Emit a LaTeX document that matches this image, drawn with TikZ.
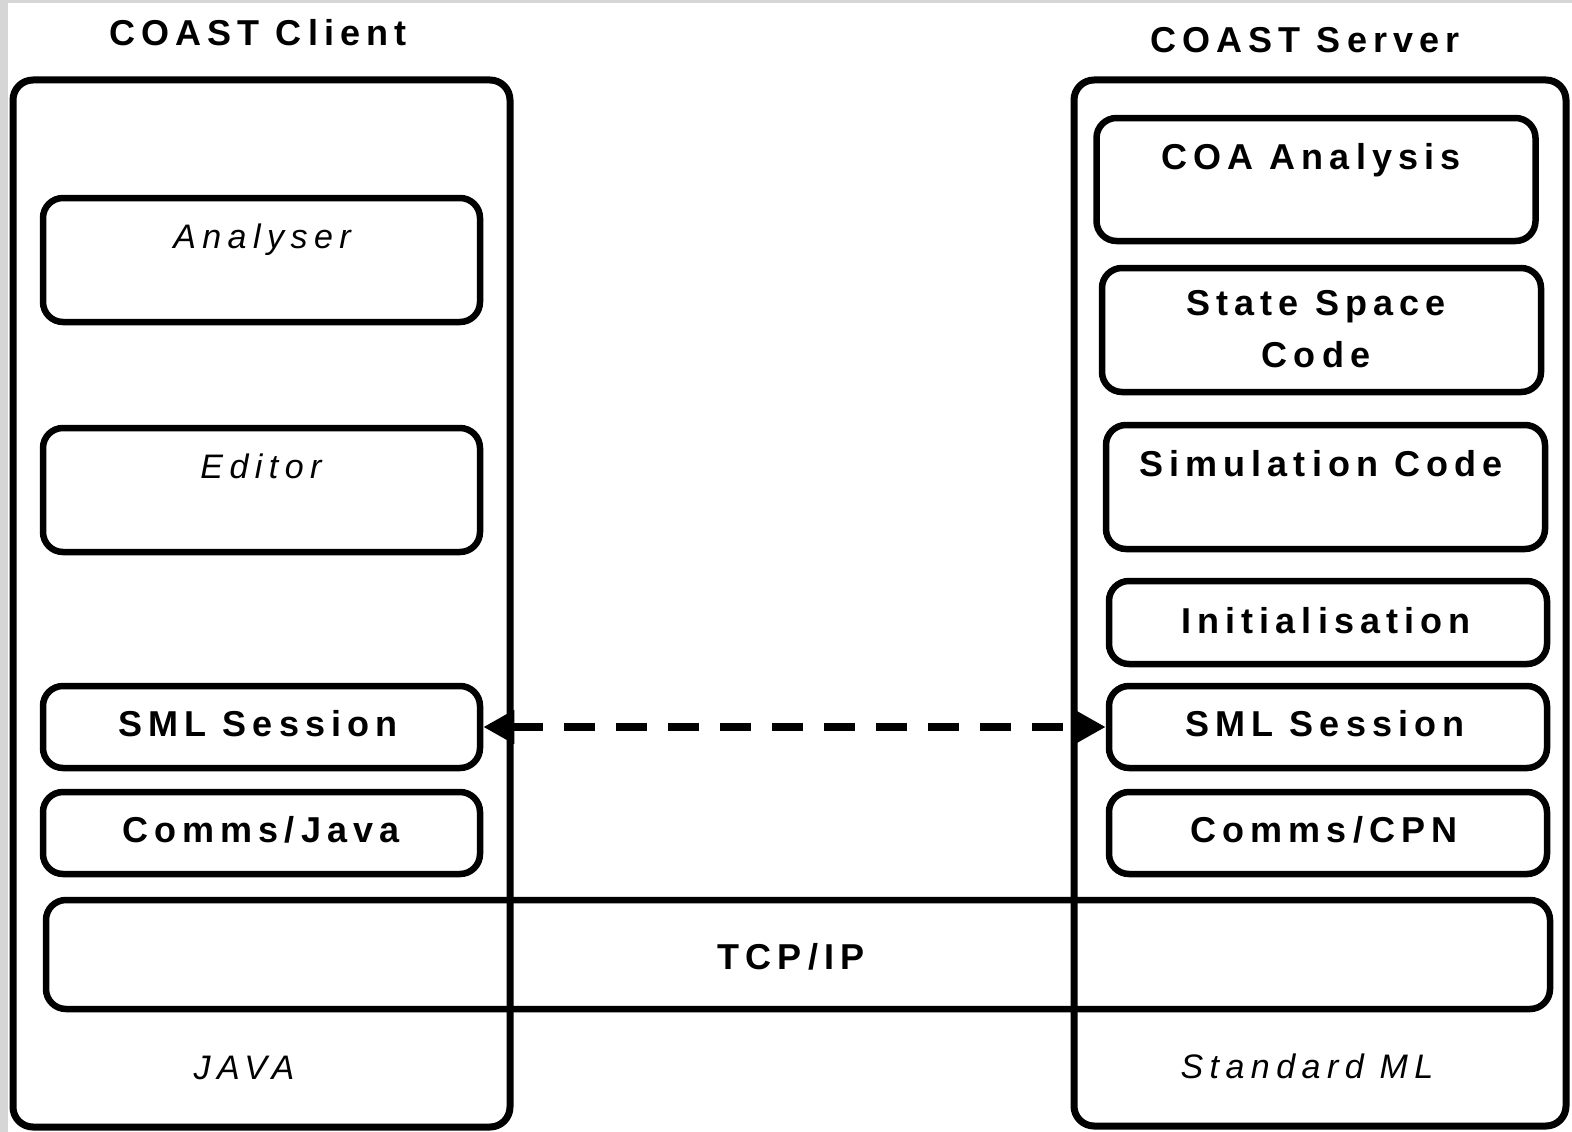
\documentclass[tikz,border=0pt]{standalone}
\usepackage{fontspec}
\setmainfont{Liberation Sans}
\newfontfamily\labfont[LetterSpace=17]{Liberation Sans}
\newfontfamily\langfont[LetterSpace=19]{Liberation Sans}
\usetikzlibrary{arrows.meta}

\begin{document}
\begin{tikzpicture}[x=1pt,y=-1pt,
  frame/.style={draw, line width=7pt, rounded corners=20pt, inner sep=0pt},
  layer/.style={draw, line width=6.5pt, rounded corners=20pt, inner sep=0pt},
  title/.style={anchor=base, inner sep=0pt, font=\labfont\bfseries\fontsize{36}{40}\selectfont},
  label/.style={anchor=base, inner sep=0pt, font=\labfont\bfseries\fontsize{36}{52}\selectfont, align=center},
  lang/.style={anchor=base, inner sep=0pt, font=\langfont\itshape\fontsize{34}{40}\selectfont},
  link/.style={line width=8pt, dash pattern=on 31pt off 21pt,
    {Triangle[length=31pt,width=32pt]}-{Triangle[length=31pt,width=32pt]}}
]
\useasboundingbox (0,0) rectangle (1572,1132);
\fill[white] (0,0) rectangle (1572,1132);
% scanned page edge
\fill[black!16] (0,0) rectangle (8,1132);
\fill[black!16] (0,0) rectangle (1572,3);

% client and server frames
\node[frame, minimum width=497pt, minimum height=1047pt] (client) at (261.5,603.5) {};
\node[frame, minimum width=492pt, minimum height=1046pt] (server) at (1320,603) {};

\node[title] (clientT) at (258,46) {COAST Client};
\node[title] (serverT) at (1305,53) {COAST Server};

% client layers
\node[layer, minimum width=437pt, minimum height=124pt] (analyser) at (261.5,260) {};
\node[layer, minimum width=437pt, minimum height=124pt] (editor) at (261.5,490) {};
\node[layer, minimum width=437pt, minimum height=82pt] (lsml) at (261.5,727) {};
\node[layer, minimum width=437pt, minimum height=82pt] (ljava) at (261.5,833) {};

\node[lang] (analyserT) at (262,248) {Analyser};
\node[lang] (editorT) at (261,478) {Editor};
\node[label] (lsmlT) at (258,736) {SML Session};
\node[label] (ljavaT) at (261,842) {Comms/Java};

% server layers
\node[layer, minimum width=439pt, minimum height=123pt] (coa) at (1316,179.5) {};
\node[layer, minimum width=439pt, minimum height=124pt] (state) at (1321.5,330) {};
\node[layer, minimum width=439pt, minimum height=124pt] (sim) at (1325.5,487) {};
\node[layer, minimum width=438pt, minimum height=83pt] (init) at (1328,622.5) {};
\node[layer, minimum width=438pt, minimum height=82pt] (rsml) at (1328,727) {};
\node[layer, minimum width=438pt, minimum height=82pt] (rcpn) at (1328,833) {};

\node[label] (coaT) at (1311,169) {COA Analysis};
\node[label, anchor=north] (stateT) at (1316,290) {State Space\\Code};
\node[label] (simT) at (1321,476) {Simulation Code};
\node[label] (initT) at (1326,633) {Initialisation};
\node[label] (rsmlT) at (1325,736) {SML Session};
\node[label] (rcpnT) at (1324,842) {Comms/CPN};

% shared transport layer
\node[layer, minimum width=1504pt, minimum height=109pt] (tcp) at (798,954.5) {};
\node[label] (tcpT) at (791,969) {TCP/IP};

\node[lang] (javaT) at (244,1079) {JAVA};
\node[lang] (smlT) at (1307,1078) {Standard ML};

% session link
\draw[link] (lsml.east) -- (rsml.west);
\end{tikzpicture}
\end{document}
